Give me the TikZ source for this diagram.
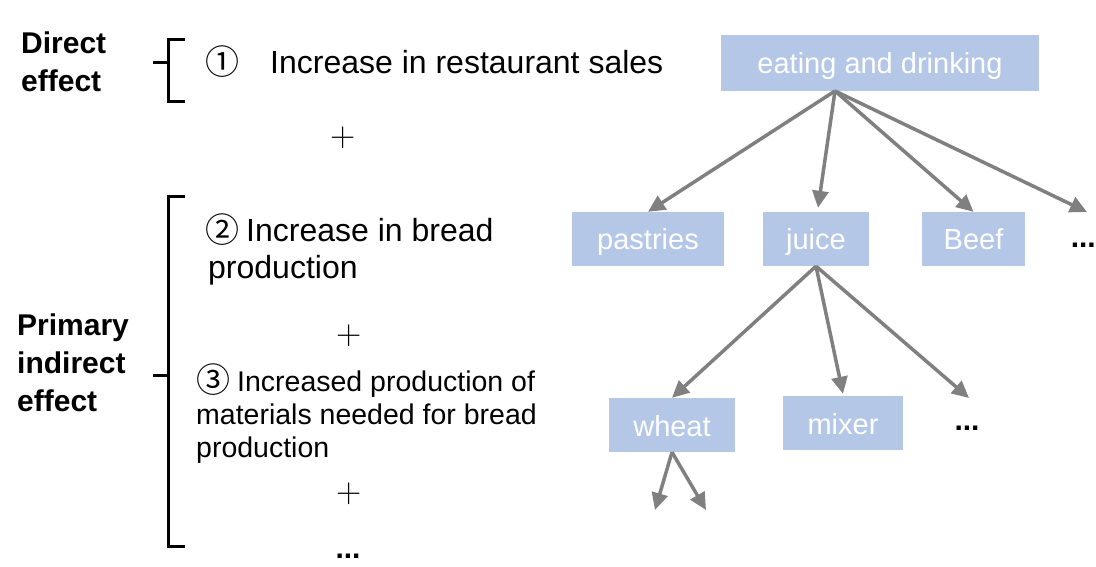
\documentclass[tikz,border=0pt]{standalone}
\usepackage{fontspec}
\setmainfont{Liberation Sans}
\newfontfamily\circfont{Noto Sans CJK SC}
\newfontfamily\lmfont{Latin Modern Roman}
\usetikzlibrary{arrows.meta,calc}
\definecolor{boxblue}{RGB}{180,199,231}
\definecolor{arrowgray}{RGB}{128,128,128}
\newcommand{\circd}[1]{{\circfont\fontsize{34}{34}\selectfont\raisebox{-1pt}{#1}}}
\tikzset{
  boxnode/.style={fill=boxblue, text=white, inner sep=0pt, text height=28pt, text depth=6pt, font=\fontsize{29}{30}\selectfont},
  conn/.style={draw=arrowgray, line width=3.5pt, -{Triangle[length=17pt,width=16pt]}},
  brace/.style={draw=black, line width=3pt},
  label/.style={font=\fontsize{30}{38}\selectfont\bfseries, align=left, anchor=west, inner sep=0pt},
  body/.style={font=\fontsize{32}{37}\selectfont, align=left, anchor=west, inner sep=0pt},
  smallbody/.style={font=\fontsize{28.5}{33}\selectfont, align=left, anchor=west, inner sep=0pt},
  plus/.style={font=\lmfont\fontsize{35}{35}\selectfont, inner sep=0pt},
  dots/.style={font=\fontsize{30}{30}\selectfont\bfseries, inner sep=0pt},
}
\begin{document}
\begin{tikzpicture}[x=1pt,y=-1pt]
\useasboundingbox (0,0) rectangle (1096,567);
% left labels
\node[label] (direct) at (21,62) {Direct\\effect};
\node[label] (primary) at (17,363) {Primary\\indirect\\effect};
% braces
\draw[brace] (185,40) -- (168,40) -- (168,102) -- (185,102);
\draw[brace] (153,63) -- (168,63);
\draw[brace] (185,197) -- (168,197) -- (168,546) -- (185,546);
\draw[brace] (153,375) -- (168,375);
% texts
\node[body] (t1) at (205,62) {\circd{①}\hspace{31pt}Increase in restaurant sales};
\node[plus] (p1) at (343.5,138) {+};
\node[body] (t2) at (205,249) {\circd{②}\hspace{7pt}Increase in bread\\\hspace{3pt}production};
\node[plus] (p2) at (349,336) {+};
\node[smallbody] (t3) at (196,414) {\circd{③}\hspace{7pt}Increased production of\\materials needed for bread\\production};
\node[plus] (p3) at (349,494) {+};
\node[dots] (d3) at (348,556) {...};
% boxes
\node[boxnode, minimum width=318pt, minimum height=56pt] (eat) at (880,63) {eating and drinking};
\node[boxnode, minimum width=152pt, minimum height=54pt] (pas) at (648,239) {pastries};
\node[boxnode, minimum width=106pt, minimum height=54pt] (jui) at (816,239) {juice};
\node[boxnode, minimum width=103pt, minimum height=54pt] (beef) at (973.5,239) {Beef};
\node[boxnode, minimum width=126pt, minimum height=54pt] (wheat) at (672,425) {wheat};
\node[boxnode, minimum width=120pt, minimum height=54pt] (mixer) at (843,423) {mixer};
\node[dots, anchor=east] (d1) at (1096,245) {...};
\node[dots] (d2) at (967,428) {...};
% coordinates
\coordinate (e0) at (835,91);
\coordinate (e4) at (1087,212);
\coordinate (j4) at (969,398);
\coordinate (w1) at (655,510);
\coordinate (w2) at (706,510);
% arrows
\draw[conn] (e0) -- (pas.north);
\draw[conn] (e0) -- ($(jui.north)+(2,-4)$);
\draw[conn] (e0) -- (beef.north);
\draw[conn] (e0) -- (e4);
\draw[conn] (jui.south) -- (wheat.north);
\draw[conn] (jui.south) -- ($(mixer.north)+(0,-2)$);
\draw[conn] (jui.south) -- (j4);
\draw[conn] (wheat.south) -- (w1);
\draw[conn] (wheat.south) -- (w2);
\end{tikzpicture}
\end{document}
